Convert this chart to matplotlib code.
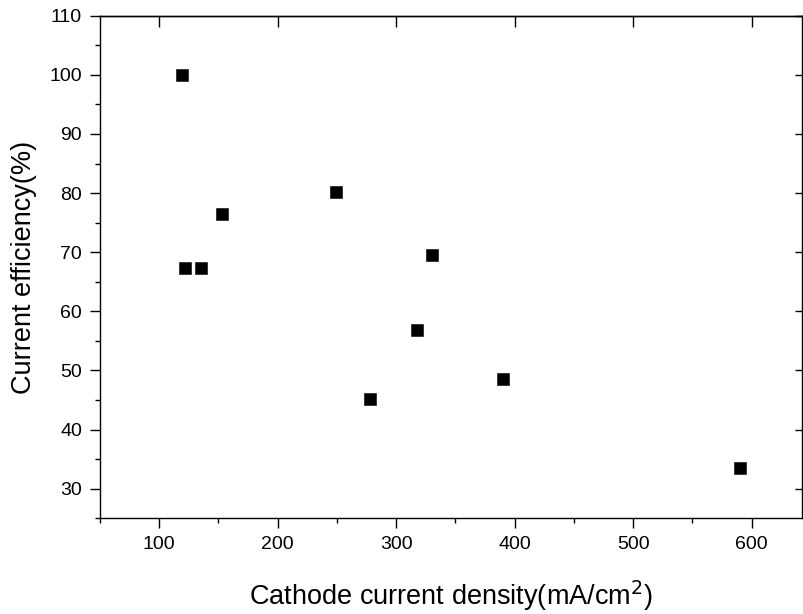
import matplotlib.pyplot as plt
from matplotlib.ticker import MultipleLocator

plt.rcParams['font.family'] = ['Liberation Sans', 'DejaVu Sans']

# Cathode current density (mA/cm2) vs current efficiency (%)
current_density = [119, 122, 135, 153, 249, 278, 318, 330, 390, 590]
efficiency = [100.0, 67.4, 67.4, 76.4, 80.2, 45.2, 56.9, 69.6, 48.5, 33.5]

x_ticks = [100, 200, 300, 400, 500, 600]
y_ticks = [30, 40, 50, 60, 70, 80, 90, 100, 110]

fig = plt.figure(figsize=(8.04, 6.14), dpi=100)
ax = fig.add_axes([100 / 804, 1 - 518.3 / 614, 702.5 / 804, (518.3 - 15.7) / 614])

ax.plot(current_density, efficiency, linestyle='none', marker='s',
        markersize=8.2, color='black', markeredgewidth=0.4)

ax.set_xlim(50, 643)
ax.set_ylim(25, 110)
ax.set_xticks(x_ticks)
ax.set_yticks(y_ticks)
ax.xaxis.set_minor_locator(MultipleLocator(50))
ax.yaxis.set_minor_locator(MultipleLocator(5))

for s in ax.spines.values():
    s.set_linewidth(1.0)

ax.tick_params(which='major', direction='out', length=7, width=1.0, labelsize=14, pad=6)
ax.tick_params(which='minor', direction='out', length=3.6, width=1.0)

# inward major ticks on top and right, no labels
top = ax.secondary_xaxis('top')
top.set_xticks(x_ticks)
top.tick_params(direction='in', length=8, width=1.0, labeltop=False)
top.spines['top'].set_linewidth(1.0)
right = ax.secondary_yaxis('right')
right.set_yticks(y_ticks)
right.tick_params(direction='in', length=6, width=1.0, labelright=False)
right.spines['right'].set_linewidth(1.0)

ax.set_xlabel('Cathode current density(mA/cm$^2$)', fontsize=19.5, labelpad=18)
ax.set_ylabel('Current efficiency(%)', fontsize=19.5, labelpad=9)

fig.savefig('out.png', dpi=100)
